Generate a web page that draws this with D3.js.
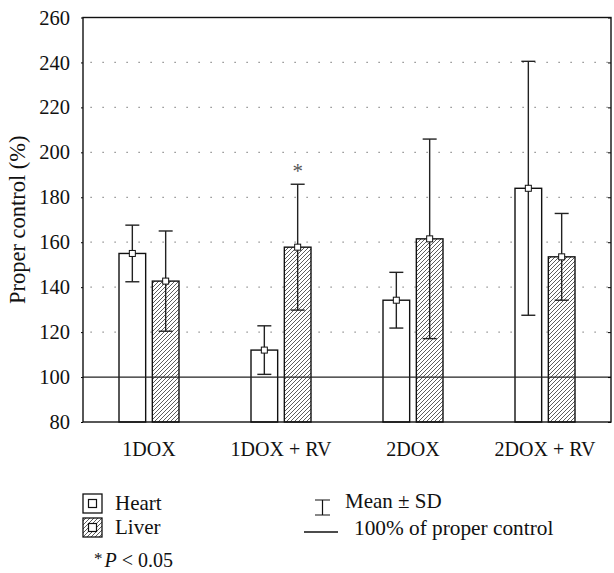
<!DOCTYPE html>
<html>
<head>
<meta charset="utf-8">
<script src="https://cdn.jsdelivr.net/npm/d3@7"></script>
<style>
  body { margin: 0; background: #fff; }
  svg text { font-family: "Liberation Serif", "Times New Roman", Times, "DejaVu Serif", serif !important; fill: #111; }
</style>
</head>
<body>
<div id="chart"></div>
<script>
// 数据
var categories = ['1DOX', '1DOX + RV', '2DOX', '2DOX + RV']
var series = ['Heart', 'Liver']
var heartMean = [155, 112, 134.2, 184]
var heartSD = [12.6, 10.8, 12.4, 56.5]
var liverMean = [142.7, 157.8, 161.5, 153.5]
var liverSD = [22.3, 28, 44.4, 19.3]
var yTicks = [80, 100, 120, 140, 160, 180, 200, 220, 240, 260]
var gridTicks = [120, 140, 160, 180, 200, 220, 240]
var refValue = 100
var significant = [{ category: '1DOX + RV', series: 'Liver' }]

var serif = '"Liberation Serif", "Times New Roman", Times, "DejaVu Serif", serif'

function drawChart() {
  var width = 614
  var height = 573
  var left = 83, right = 611, top = 17.5, bottom = 422

  var svg = d3.select('#chart').append('svg').attr('width', width).attr('height', height)
    .attr('font-family', serif)

  // 斜线填充
  var defs = svg.append('defs')
  var pat = defs.append('pattern').attr('id', 'hatch')
    .attr('patternUnits', 'userSpaceOnUse').attr('width', 4).attr('height', 4)
  pat.append('rect').attr('width', 4).attr('height', 4).attr('fill', '#fff')
  pat.append('path').attr('d', 'M-1,1 l2,-2 M0,4 l4,-4 M3,5 l2,-2')
    .attr('stroke', '#333').attr('stroke-width', 0.8)

  var x = d3.scaleBand().domain(categories).range([left, right]).padding(0)
  var inner = d3.scaleBand().domain(series).range([-30, 30]).paddingInner(0.2)
  var y = d3.scaleLinear().domain([80, 260]).range([bottom, top])

  var data = []
  categories.forEach(function(c, i) {
    data.push({ category: c, series: 'Heart', mean: heartMean[i], sd: heartSD[i] })
    data.push({ category: c, series: 'Liver', mean: liverMean[i], sd: liverSD[i] })
  })
  function cx(d) {
    return x(d.category) + x.bandwidth() / 2 + inner(d.series) + inner.bandwidth() / 2
  }

  // 网格
  svg.append('g').selectAll('line').data(gridTicks).enter().append('line')
    .attr('x1', left + 7.5).attr('x2', right)
    .attr('y1', function(d) { return y(d) }).attr('y2', function(d) { return y(d) })
    .attr('stroke', '#777').attr('stroke-width', 1.2).attr('stroke-dasharray', '1.2,10.8')

  // 柱子
  svg.append('g').selectAll('rect').data(data).enter().append('rect')
    .attr('x', function(d) { return x(d.category) + x.bandwidth() / 2 + inner(d.series) })
    .attr('width', inner.bandwidth())
    .attr('y', function(d) { return y(d.mean) })
    .attr('height', function(d) { return y(80) - y(d.mean) })
    .attr('fill', function(d) { return d.series == 'Liver' ? 'url(#hatch)' : '#fff' })
    .attr('stroke', '#111').attr('stroke-width', 1.4)

  // 100% 参考线
  svg.append('line').attr('x1', left).attr('x2', right)
    .attr('y1', y(refValue)).attr('y2', y(refValue))
    .attr('stroke', '#222').attr('stroke-width', 1.3)

  // 误差线
  var eb = svg.append('g').attr('stroke', '#222').attr('stroke-width', 1.4)
  eb.selectAll('.v').data(data).enter().append('line')
    .attr('x1', cx).attr('x2', cx)
    .attr('y1', function(d) { return y(d.mean - d.sd) })
    .attr('y2', function(d) { return y(d.mean + d.sd) })
  ;[1, -1].forEach(function(s) {
    eb.selectAll('.c' + s).data(data).enter().append('line')
      .attr('x1', function(d) { return cx(d) - 7 }).attr('x2', function(d) { return cx(d) + 7 })
      .attr('y1', function(d) { return y(d.mean + s * d.sd) })
      .attr('y2', function(d) { return y(d.mean + s * d.sd) })
  })

  // 均值点
  svg.append('g').selectAll('rect').data(data).enter().append('rect')
    .attr('x', function(d) { return cx(d) - 3 }).attr('y', function(d) { return y(d.mean) - 3 })
    .attr('width', 6).attr('height', 6)
    .attr('fill', '#fff').attr('stroke', '#111').attr('stroke-width', 1)

  // 显著性
  svg.append('g').selectAll('text').data(significant).enter().append('text')
    .text('*')
    .attr('x', function(s) { return cx(s) })
    .attr('y', function(s) {
      var d = data.filter(function(o) { return o.category == s.category && o.series == s.series })[0]
      return y(d.mean + d.sd) - 6
    })
    .attr('text-anchor', 'middle').attr('font-size', 21).style('fill', '#555')

  // 坐标轴
  var axisLeft = d3.axisLeft(y).tickValues(yTicks).tickSize(2).tickPadding(11)
  var gl = svg.append('g').attr('transform', 'translate(' + left + ',0)').call(axisLeft)
  gl.select('.domain').remove()
  gl.attr('font-family', serif).attr('font-size', 20.5)
  gl.selectAll('text').style('fill', '#111')

  var axisRight = d3.axisRight(y).tickValues(yTicks).tickSize(-3).tickFormat('')
  var gr = svg.append('g').attr('transform', 'translate(' + right + ',0)').call(axisRight)
  gr.select('.domain').remove()

  var axisBottom = d3.axisBottom(x).tickSize(0).tickPadding(20)
  var gb = svg.append('g').attr('transform', 'translate(0,' + bottom + ')').call(axisBottom)
  gb.select('.domain').remove()
  gb.attr('font-family', serif).attr('font-size', 20)
  gb.selectAll('text').style('fill', '#111')

  svg.append('rect').attr('x', left).attr('y', top)
    .attr('width', right - left).attr('height', bottom - top)
    .attr('fill', 'none').attr('stroke', '#111').attr('stroke-width', 1.4)

  svg.append('text').text('Proper control (%)')
    .attr('transform', 'translate(25,' + (top + bottom) / 2 + ') rotate(-90)')
    .attr('text-anchor', 'middle').attr('font-size', 22.5)

  // 图例
  var lg = svg.append('g')
  series.forEach(function(s, i) {
    var yy = 494 + i * 24
    lg.append('rect').attr('x', 83).attr('y', yy).attr('width', 19).attr('height', 19)
      .attr('fill', s == 'Liver' ? 'url(#hatch)' : '#fff').attr('stroke', '#111').attr('stroke-width', 1.3)
    lg.append('rect').attr('x', 88.5).attr('y', yy + 5.5).attr('width', 8).attr('height', 8)
      .attr('fill', '#fff').attr('stroke', '#111').attr('stroke-width', 1.2)
    lg.append('text').text(s).attr('x', 115).attr('y', yy + 16).attr('font-size', 21)
  })
  var p = lg.append('text').attr('x', 94).attr('y', 567).attr('font-size', 20)
  p.append('tspan').text('*').attr('dy', -3).attr('font-size', 17)
  p.append('tspan').text('P').attr('dy', 3).attr('font-style', 'italic').attr('dx', 2)
  p.append('tspan').text(' < 0.05')

  lg.append('path').attr('d', 'M315,500 h15 M322.5,500 v15 M315,515 h15')
    .attr('stroke', '#111').attr('stroke-width', 1.2).attr('fill', 'none')
  lg.append('text').text('Mean ± SD').attr('x', 345).attr('y', 508).attr('font-size', 21)
  lg.append('line').attr('x1', 304).attr('x2', 338).attr('y1', 532).attr('y2', 532)
    .attr('stroke', '#111').attr('stroke-width', 1.3)
  lg.append('text').text('100% of proper control').attr('x', 354).attr('y', 535).attr('font-size', 21.3)
}

drawChart()
</script>
</body>
</html>
